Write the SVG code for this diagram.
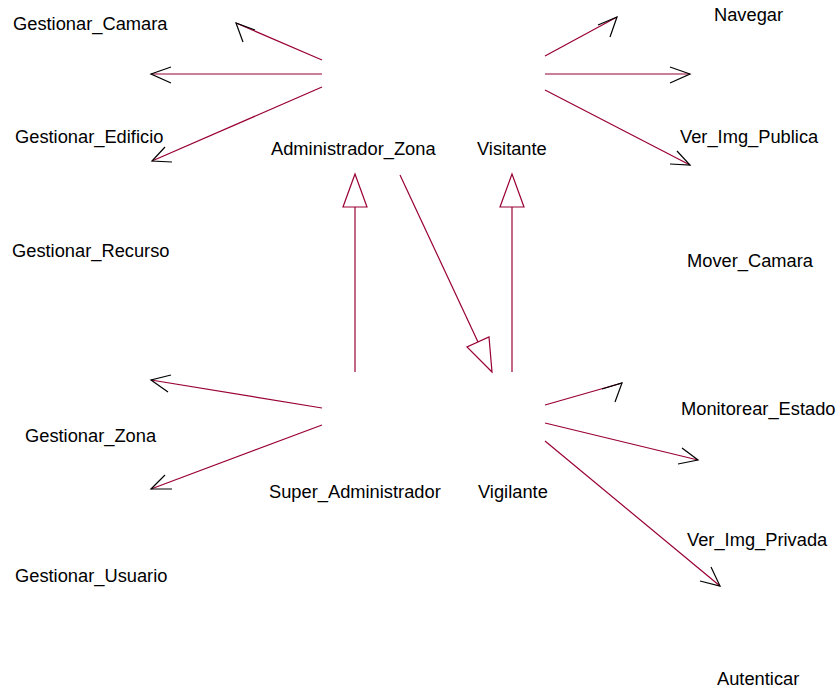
<svg xmlns="http://www.w3.org/2000/svg" width="839" height="689" viewBox="0 0 839 689">
<style>
text{font-family:"Liberation Sans",Arial,sans-serif;font-size:18.3px;fill:#000}
.l{stroke:#990033;stroke-width:1.2;fill:none}
.h{stroke:#000;stroke-width:1.2;fill:none}
.t{stroke:#990033;stroke-width:1.2;fill:#fff}
</style>
<rect width="839" height="689" fill="#fff"/>
<g id="connectors">
<line class="l" x1="322" y1="60" x2="236" y2="23"/><polyline class="h" points="255,30 236,23 243,42"/>
<line class="l" x1="322" y1="74" x2="151" y2="74"/><polyline class="h" points="171,67 151,74 171,83"/>
<line class="l" x1="322" y1="87" x2="152" y2="161"/><polyline class="h" points="165,147 152,161 172,162"/>
<line class="l" x1="545" y1="56" x2="617" y2="17"/><polyline class="h" points="598,25 617,17 610,37"/>
<line class="l" x1="545" y1="74" x2="690" y2="74"/><polyline class="h" points="670,67 690,74 670,83"/>
<line class="l" x1="545" y1="90" x2="690" y2="165"/><polyline class="h" points="677,151 690,165 670,164"/>
<line class="l" x1="355" y1="372" x2="355" y2="207"/><polygon class="t" points="355,174 343,207 367,207"/>
<line class="l" x1="512" y1="372" x2="512" y2="207"/><polygon class="t" points="512,174 500,207 524,207"/>
<line class="l" x1="400" y1="175" x2="478" y2="342"/><polygon class="t" points="492,372 467,347 489,337"/>
<line class="l" x1="322" y1="408" x2="151" y2="380"/><polyline class="h" points="171,375 151,380 168,392"/>
<line class="l" x1="322" y1="425" x2="151" y2="489"/><polyline class="h" points="165,475 151,489 172,489"/>
<line class="l" x1="545" y1="405" x2="622" y2="383"/><polyline class="h" points="602,389 622,383 615,402"/>
<line class="l" x1="545" y1="423" x2="698" y2="460"/><polyline class="h" points="682,448 698,460 678,464"/>
<line class="l" x1="545" y1="441" x2="720" y2="586"/><polyline class="h" points="711,567 720,586 700,581"/>
</g>
<g id="Gestionar_Camara"><text x="13" y="30">Gestionar_Camara</text></g>
<g id="Gestionar_Edificio"><text x="15" y="143">Gestionar_Edificio</text></g>
<g id="Gestionar_Recurso"><text x="12" y="257">Gestionar_Recurso</text></g>
<g id="Gestionar_Zona"><text x="25" y="442">Gestionar_Zona</text></g>
<g id="Gestionar_Usuario"><text x="15" y="582">Gestionar_Usuario</text></g>
<g id="Administrador_Zona"><text x="271" y="155">Administrador_Zona</text></g>
<g id="Visitante"><text x="477" y="155">Visitante</text></g>
<g id="Super_Administrador"><text x="269" y="498">Super_Administrador</text></g>
<g id="Vigilante"><text x="478" y="498">Vigilante</text></g>
<g id="Navegar"><text x="714" y="21">Navegar</text></g>
<g id="Ver_Img_Publica"><text x="680" y="143">Ver_Img_Publica</text></g>
<g id="Mover_Camara"><text x="687" y="267">Mover_Camara</text></g>
<g id="Monitorear_Estado"><text x="681" y="415">Monitorear_Estado</text></g>
<g id="Ver_Img_Privada"><text x="687" y="546">Ver_Img_Privada</text></g>
<g id="Autenticar"><text x="717" y="685">Autenticar</text></g>
</svg>
